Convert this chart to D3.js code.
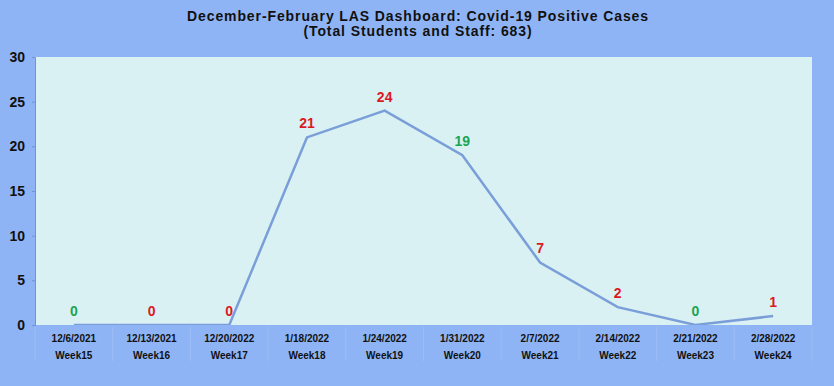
<!DOCTYPE html>
<html lang="en">
  <head>
    <meta charset="UTF-8">
    <title>LAS Dashboard</title>
    <style>
      body { margin: 0; background: #8fb4f5; }
      svg text { font-family: "Liberation Sans", Arial, sans-serif; font-weight: bold; }
    </style>
  </head>
  <body>
<div id="my_dataviz"></div>
<script src="https://d3js.org/d3.v7.min.js"></script>
<script>

// chart data
var dates = ["12/6/2021", "12/13/2021", "12/20/2022", "1/18/2022", "1/24/2022",
             "1/31/2022", "2/7/2022", "2/14/2022", "2/21/2022", "2/28/2022"]
var weeks = ["Week15", "Week16", "Week17", "Week18", "Week19",
             "Week20", "Week21", "Week22", "Week23", "Week24"]
var cases = [0, 0, 0, 21, 24, 19, 7, 2, 0, 1]
var labelColors = ["green", "red", "red", "red", "red", "green", "red", "red", "green", "red"]
var yTicks = [0, 5, 10, 15, 20, 25, 30]

var width = 834,
    height = 386,
    margin = {top: 57, right: 22, bottom: 61, left: 35}

var svg = d3.select("#my_dataviz")
  .append("svg")
    .attr("width", width)
    .attr("height", height)

svg.append("rect")
  .attr("width", width).attr("height", height)
  .attr("fill", "#8fb4f5")

// title
var titleLines = ["December-February LAS Dashboard: Covid-19 Positive Cases",
                  "(Total Students and Staff: 683)"]
svg.selectAll("text.title")
  .data(titleLines)
  .enter().append("text")
    .attr("x", 418)
    .attr("y", function(d, i) { return 21 + i * 15 })
    .attr("text-anchor", "middle")
    .style("font-size", "14px")
    .style("letter-spacing", "0.9px")
    .attr("fill", "#111")
    .text(function(d) { return d })

var x = d3.scaleBand()
  .domain(d3.range(dates.length))
  .range([margin.left, width - margin.right])

var y = d3.scaleLinear()
  .domain([0, 30])
  .range([height - margin.bottom, margin.top])

// plot area
svg.append("rect")
  .attr("x", margin.left).attr("y", y(30))
  .attr("width", x.range()[1] - margin.left)
  .attr("height", y(0) - y(30))
  .attr("fill", "#daf1f4")

svg.append("clipPath").attr("id", "plotclip")
  .append("rect")
    .attr("x", margin.left).attr("y", y(30))
    .attr("width", x.range()[1] - margin.left)
    .attr("height", y(0) - y(30))

// y axis
var yAxis = svg.append("g")
  .attr("transform", "translate(" + margin.left + ",0)")
  .call(d3.axisLeft(y).tickValues(yTicks).tickSize(3).tickPadding(7))
yAxis.select(".domain").attr("stroke", "#6f93d4")
yAxis.selectAll(".tick line").attr("stroke", "#6f93d4")
yAxis.selectAll("text")
  .style("font-size", "14px")
  .style("font-family", "'Liberation Sans', Arial, sans-serif")
  .style("font-weight", "bold")
  .attr("fill", "#111")

// category labels
var cats = svg.append("g")
cats.selectAll("line.sep")
  .data(d3.range(dates.length + 1))
  .enter().append("line")
    .attr("x1", function(d) { return margin.left + d * x.bandwidth() })
    .attr("x2", function(d) { return margin.left + d * x.bandwidth() })
    .attr("y1", y(0) + 2).attr("y2", y(0) + 36)
    .attr("stroke", "#9dbdf4")
cats.selectAll("text.date")
  .data(dates)
  .enter().append("text")
    .attr("x", function(d, i) { return x(i) + x.bandwidth() / 2 })
    .attr("y", y(0) + 17)
    .attr("text-anchor", "middle")
    .style("font-size", "10px")
    .attr("fill", "#111")
    .text(function(d) { return d })
cats.selectAll("text.week")
  .data(weeks)
  .enter().append("text")
    .attr("x", function(d, i) { return x(i) + x.bandwidth() / 2 })
    .attr("y", y(0) + 34)
    .attr("text-anchor", "middle")
    .style("font-size", "10px")
    .attr("fill", "#111")
    .text(function(d) { return d })

// line
var line = d3.line()
  .x(function(d, i) { return x(i) + x.bandwidth() / 2 })
  .y(function(d) { return y(d) })

svg.append("path")
  .datum(cases)
  .attr("clip-path", "url(#plotclip)")
  .attr("fill", "none")
  .attr("stroke", "#7a9fd8")
  .attr("stroke-width", 2.5)
  .attr("d", line)

// value labels
svg.selectAll("text.val")
  .data(cases)
  .enter().append("text")
    .attr("x", function(d, i) { return x(i) + x.bandwidth() / 2 })
    .attr("y", function(d) { return y(d) - 9 })
    .attr("text-anchor", "middle")
    .style("font-size", "14px")
    .attr("fill", function(d, i) { return labelColors[i] == "green" ? "#1aa553" : "#dc1a1f" })
    .text(function(d) { return d })

</script>
  </body>
</html>
